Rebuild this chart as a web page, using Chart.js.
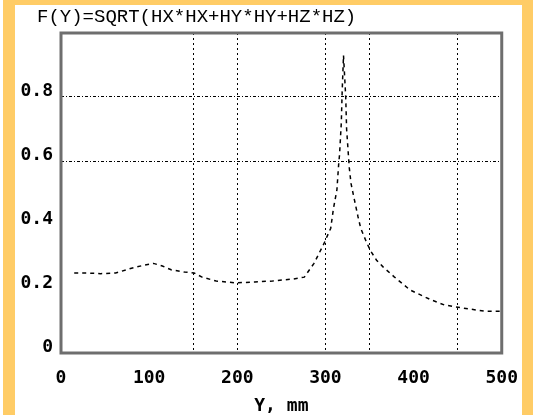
<!DOCTYPE html>
<html>
<head>
<meta charset="utf-8">
<script src="https://cdn.jsdelivr.net/npm/chart.js@4"></script>
<style>
  body { margin: 0; background: #fff; }
  #wrap { position: relative; width: 533px; height: 415px; background: #fff; overflow: hidden; }
  .edge { position: absolute; background: #ffcc66; }
</style>
</head>
<body>
<div id="wrap">
  <canvas id="c" width="533" height="415"></canvas>
  <div class="edge" style="left:3px;top:0;width:12px;height:415px"></div>
  <div class="edge" style="left:3px;top:0;width:530px;height:5px"></div>
  <div class="edge" style="left:522px;top:0;width:11px;height:415px"></div>
</div>
<script>
// Y position in mm, and field value F(Y)
var posY = [15, 30, 45, 62, 80, 95, 105, 115, 125, 140, 151, 160, 176, 198, 220, 240, 263, 276, 287, 298,
  306, 309, 313, 315, 316, 318, 319, 320.5, 323, 324, 326, 327, 329, 332, 337, 340, 346, 351, 358, 365,
  378, 396, 409, 420, 435, 448, 462, 480, 500];
var fVal = [0.25, 0.25, 0.248, 0.25, 0.265, 0.275, 0.28, 0.272, 0.26, 0.253, 0.25, 0.237, 0.225, 0.219, 0.222, 0.225, 0.231, 0.237, 0.28, 0.34,
  0.39, 0.45, 0.51, 0.59, 0.62, 0.72, 0.82, 0.93, 0.80, 0.70, 0.62, 0.58, 0.53, 0.49, 0.425, 0.39, 0.35, 0.32, 0.29, 0.27,
  0.238, 0.197, 0.18, 0.166, 0.15, 0.144, 0.138, 0.131, 0.13];
var xGrid = [150, 200, 300, 350, 450];
var yGrid = [0.6, 0.8];
var titleText = 'F(Y)=SQRT(HX*HX+HY*HY+HZ*HZ)';
var xTitle = 'Y, mm';

var pts = [];
for (var i = 0; i < posY.length; i++) pts.push({ x: posY[i], y: fVal[i] });

var tickFont = { family: 'DejaVu Sans Mono', size: 18, weight: 'bold' };

// frame round the plot area and the title above it
var framePlugin = {
  id: 'frame',
  afterDraw: function(chart) {
    var a = chart.chartArea, ctx = chart.ctx;
    ctx.save();
    ctx.strokeStyle = '#6e6e6e';
    ctx.lineWidth = 3;
    ctx.strokeRect(a.left, a.top, a.right - a.left, a.bottom - a.top);
    ctx.fillStyle = '#000';
    ctx.font = '19px "Liberation Mono"';
    ctx.textBaseline = 'middle';
    ctx.fillText(titleText, 37, 17);
    ctx.restore();
  }
};

new Chart(document.getElementById('c'), {
  type: 'line',
  data: {
    datasets: [{
      data: pts,
      borderColor: '#000',
      borderWidth: 1.5,
      borderDash: [4, 4],
      pointRadius: 0,
      tension: 0,
      fill: false
    }]
  },
  options: {
    responsive: false,
    animation: false,
    layout: { padding: { top: 33, right: 21, left: 0, bottom: 0 } },
    plugins: { legend: { display: false }, tooltip: { enabled: false } },
    scales: {
      x: {
        type: 'linear', min: 0, max: 500,
        afterFit: function(s) { s.height = 62; },
        ticks: {
          stepSize: 50, autoSkip: false, maxRotation: 0, padding: 15,
          color: '#000', font: tickFont,
          callback: function(v) { return v % 100 === 0 ? String(v) : ''; }
        },
        grid: {
          drawTicks: false, lineWidth: 1,
          color: function(c) { return c.tick && xGrid.indexOf(Math.round(c.tick.value)) >= 0 ? '#000' : 'rgba(0,0,0,0)'; }
        },
        border: { display: false, dash: [2, 3] },
        title: { display: true, text: xTitle, color: '#000', font: { family: 'DejaVu Sans Mono', size: 18, weight: 'bold', lineHeight: 1 }, padding: { top: 0, bottom: 0 } }
      },
      y: {
        min: 0, max: 1,
        afterFit: function(s) { s.width = 61; },
        ticks: {
          stepSize: 0.2, padding: 8, labelOffset: -6,
          color: '#000', font: tickFont,
          callback: function(v) { if (v > 0.99) return ''; return v === 0 ? '0' : v.toFixed(1); }
        },
        grid: {
          drawTicks: false, lineWidth: 1,
          color: function(c) {
            if (!c.tick) return 'rgba(0,0,0,0)';
            var v = Math.round(c.tick.value * 10) / 10;
            return yGrid.indexOf(v) >= 0 ? '#000' : 'rgba(0,0,0,0)';
          }
        },
        border: { display: false, dash: [3, 2, 1, 2] }
      }
    }
  },
  plugins: [framePlugin]
});
</script>
</body>
</html>
